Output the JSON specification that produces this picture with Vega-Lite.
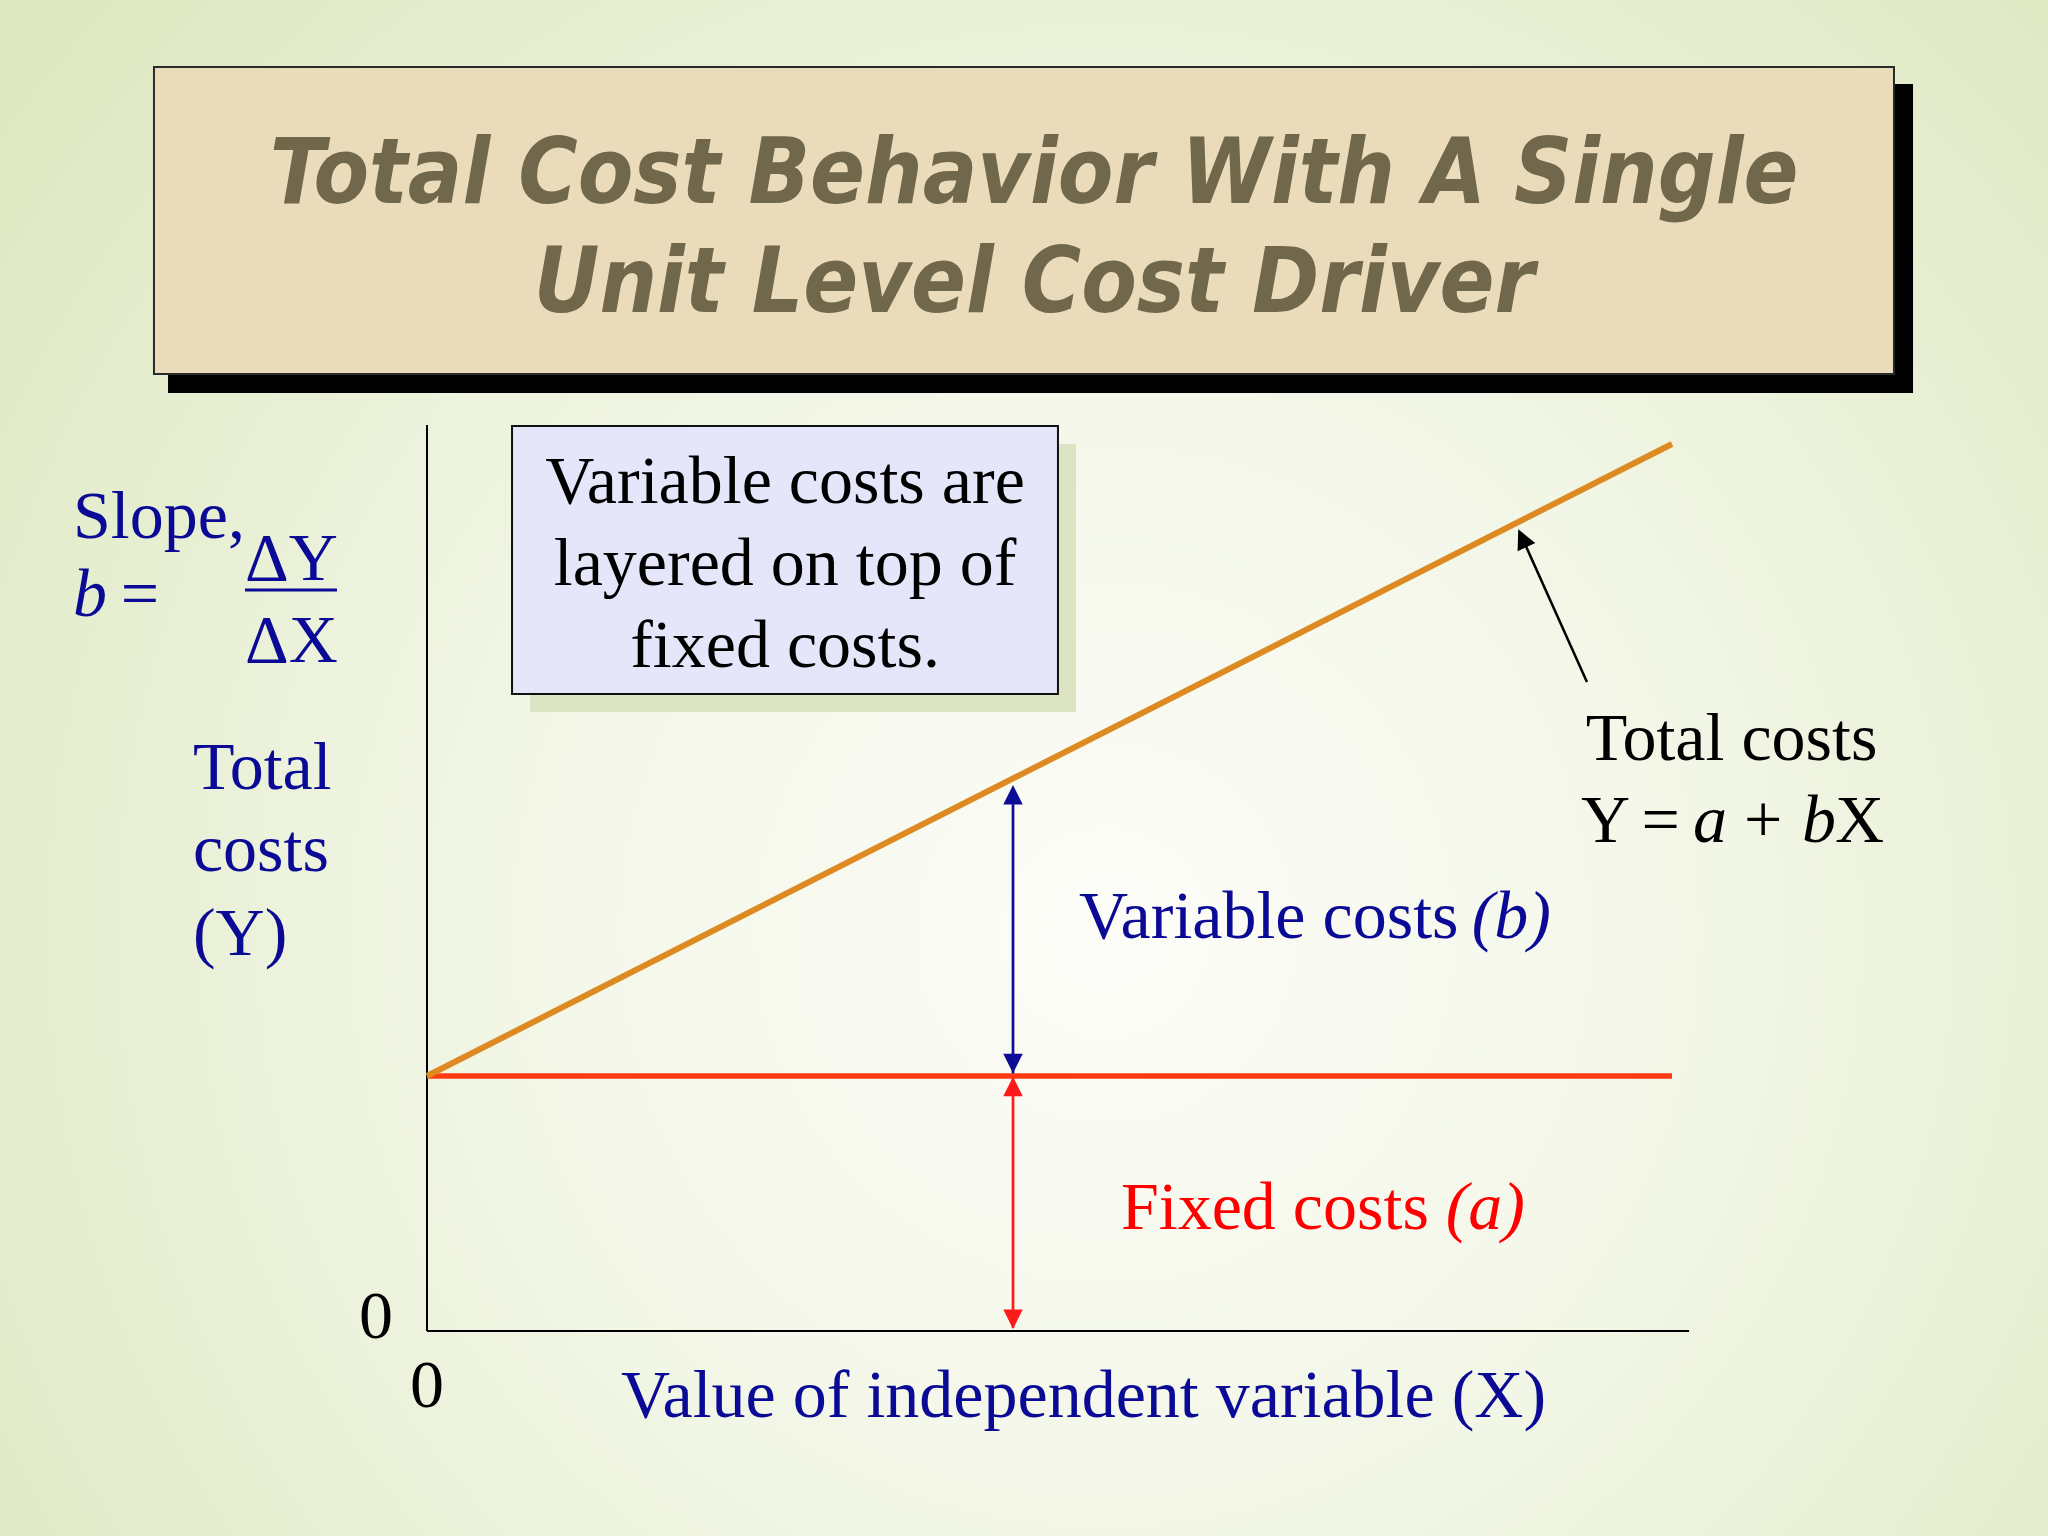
{
  "$schema": "https://vega.github.io/schema/vega-lite/v6.json",
  "width": 2048,
  "height": 1536,
  "autosize": {"type": "fit", "contains": "padding"},
  "padding": 0,
  "background": "#eaf1da",
  "config": {"view": {"stroke": null}},
  "encoding": {
    "x": {"field": "x", "type": "quantitative", "scale": {"domain": [-34.297, 130.201], "nice": false, "zero": false}, "axis": null},
    "y": {"field": "y", "type": "quantitative", "scale": {"domain": [-32.157, 208.784], "nice": false, "zero": false}, "axis": null}
  },
  "layer": [
    {
      "data": {"values": [{"x": -34.297, "x2": 130.201, "y": -32.157, "y2": 208.784}]},
      "mark": {"type": "rect", "clip": true, "fill": {"gradient": "radial", "x1": 0.54, "y1": 0.58, "r1": 0, "x2": 0.54, "y2": 0.58, "r2": 0.76, "stops": [{"offset": 0, "color": "#fcfdf8"}, {"offset": 0.4, "color": "#f2f6e6"}, {"offset": 1, "color": "#d8e5b8"}]}},
      "encoding": {"x2": {"field": "x2"}, "y2": {"field": "y2"}}
    },
    {
      "data": {"values": [{"x": -20.8, "x2": 119.36, "y": 147.14, "y2": 195.61}]},
      "mark": {"type": "rect", "fill": "#000000"},
      "encoding": {"x2": {"field": "x2"}, "y2": {"field": "y2"}}
    },
    {
      "data": {"values": [{"x": -21.93, "x2": 117.83, "y": 150.12, "y2": 198.27}]},
      "mark": {"type": "rect", "fill": "#eadcba", "stroke": "#2a2a2a", "strokeWidth": 2},
      "encoding": {"x2": {"field": "x2"}, "y2": {"field": "y2"}}
    },
    {
      "data": {"values": [
        {"x": 48.76, "y": 176.94, "label": "Total Cost Behavior With A Single"},
        {"x": 48.76, "y": 159.84, "label": "Unit Level Cost Driver"}
      ]},
      "mark": {"type": "text", "align": "center", "baseline": "alphabetic", "font": "'DejaVu Sans Condensed', 'DejaVu Sans', sans-serif", "fontSize": 90, "fontWeight": "bold", "fontStyle": "italic", "color": "#71674a"},
      "encoding": {"text": {"field": "label"}}
    },
    {
      "data": {"values": [{"x": 8.27, "x2": 52.13, "y": 97.1, "y2": 139.14}]},
      "mark": {"type": "rect", "fill": "#dde4c4"},
      "encoding": {"x2": {"field": "x2"}, "y2": {"field": "y2"}}
    },
    {
      "data": {"values": [{"x": 6.83, "x2": 50.68, "y": 99.92, "y2": 141.96}]},
      "mark": {"type": "rect", "fill": "#e6e6fa", "stroke": "#111111", "strokeWidth": 2},
      "encoding": {"x2": {"field": "x2"}, "y2": {"field": "y2"}}
    },
    {
      "data": {"values": [
        {"x": 28.76, "y": 129.88, "label": "Variable costs are"},
        {"x": 28.76, "y": 117.02, "label": "layered on top of"},
        {"x": 28.76, "y": 104.16, "label": "fixed costs."},
        {"x": -4.1, "y": -1.1, "label": "0"},
        {"x": 0, "y": -11.92, "label": "0"},
        {"x": 104.78, "y": 89.57, "label": "Total costs"}
      ]},
      "mark": {"type": "text", "align": "center", "baseline": "alphabetic", "font": "Liberation Serif", "fontSize": 68, "color": "#000000"},
      "encoding": {"text": {"field": "label"}}
    },
    {
      "data": {"values": [
        {"x": 0, "y": 0, "x2": 0, "y2": 142.12},
        {"x": 0, "y": 0, "x2": 101.37, "y2": 0}
      ]},
      "mark": {"type": "rule", "color": "#000000", "strokeWidth": 2},
      "encoding": {"x2": {"field": "x2"}, "y2": {"field": "y2"}}
    },
    {
      "data": {"values": [{"x": 0, "y": 40, "x2": 100, "y2": 40}]},
      "mark": {"type": "rule", "color": "#ff3a12", "strokeWidth": 5.5},
      "encoding": {"x2": {"field": "x2"}, "y2": {"field": "y2"}}
    },
    {
      "data": {"values": [{"x": 0, "y": 40, "x2": 100, "y2": 139.14}]},
      "mark": {"type": "rule", "color": "#de8a22", "strokeWidth": 6},
      "encoding": {"x2": {"field": "x2"}, "y2": {"field": "y2"}}
    },
    {
      "data": {"values": [
        {"x": 47.07, "y": 40.4, "y2": 85.0, "series": "Variable costs"},
        {"x": 47.07, "y": 0.5, "y2": 39.5, "series": "Fixed costs"}
      ]},
      "mark": {"type": "rule", "strokeWidth": 2.7},
      "encoding": {
        "y2": {"field": "y2"},
        "color": {"field": "series", "type": "nominal", "scale": {"domain": ["Variable costs", "Fixed costs"], "range": ["#0c0c96", "#ff1a1a"]}, "legend": null}
      }
    },
    {
      "data": {"values": [
        {"x": 47.07, "y": 84.12, "series": "Variable costs", "dir": "up"},
        {"x": 47.07, "y": 41.95, "series": "Variable costs", "dir": "down"},
        {"x": 47.07, "y": 38.36, "series": "Fixed costs", "dir": "up"},
        {"x": 47.07, "y": 1.84, "series": "Fixed costs", "dir": "down"}
      ]},
      "mark": {"type": "point", "filled": true, "size": 380, "opacity": 1, "strokeWidth": 0},
      "encoding": {
        "color": {"field": "series", "type": "nominal", "scale": {"domain": ["Variable costs", "Fixed costs"], "range": ["#0c0c96", "#ff1a1a"]}, "legend": null},
        "shape": {"field": "dir", "type": "nominal", "scale": {"domain": ["up", "down"], "range": ["M0,-1L1,1L-1,1Z", "M0,1L1,-1L-1,-1Z"]}, "legend": null}
      }
    },
    {
      "data": {"values": [{"x": 93.17, "y": 101.8, "x2": 87.98, "y2": 124.36}]},
      "mark": {"type": "rule", "color": "#000000", "strokeWidth": 2.5},
      "encoding": {"x2": {"field": "x2"}, "y2": {"field": "y2"}}
    },
    {
      "data": {"values": [{"x": 87.98, "y": 124.36}]},
      "mark": {"type": "point", "shape": "M0,-1L1,1L-1,1Z", "filled": true, "size": 380, "opacity": 1, "color": "#000000", "angle": -24.7, "strokeWidth": 0},
      "encoding": {}
    },
    {
      "data": {"values": [{"x": -14.62, "y": 116.24, "x2": -7.23, "y2": 116.24}]},
      "mark": {"type": "rule", "color": "#0a0a96", "strokeWidth": 3},
      "encoding": {"x2": {"field": "x2"}, "y2": {"field": "y2"}}
    },
    {
      "data": {"values": [
        {"x": -28.43, "y": 124.39, "label": "Slope,"},
        {"x": -24.6, "y": 112.16, "label": "="},
        {"x": -18.8, "y": 85.02, "label": "Total"},
        {"x": -18.8, "y": 72.16, "label": "costs"},
        {"x": -18.8, "y": 58.98, "label": "(Y)"},
        {"x": 52.37, "y": 61.65, "label": "Variable costs"}
      ]},
      "mark": {"type": "text", "align": "left", "baseline": "alphabetic", "font": "Liberation Serif", "fontSize": 68, "color": "#0a0a96"},
      "encoding": {"text": {"field": "label"}}
    },
    {
      "data": {"values": [
        {"x": -10.88, "y": 117.8, "label": "ΔY"},
        {"x": -10.88, "y": 104.94, "label": "ΔX"},
        {"x": 52.73, "y": -13.49, "label": "Value of independent variable (X)"}
      ]},
      "mark": {"type": "text", "align": "center", "baseline": "alphabetic", "font": "Liberation Serif", "fontSize": 68, "color": "#0a0a96"},
      "encoding": {"text": {"field": "label"}}
    },
    {
      "data": {"values": [{"x": -28.43, "y": 112.16, "label": "b"}]},
      "mark": {"type": "text", "align": "left", "baseline": "alphabetic", "font": "Liberation Serif", "fontSize": 68, "fontStyle": "italic", "color": "#0a0a96"},
      "encoding": {"text": {"field": "label"}}
    },
    {
      "data": {"values": [{"x": 90.28, "y": 61.65, "label": "(b)"}]},
      "mark": {"type": "text", "align": "right", "baseline": "alphabetic", "font": "Liberation Serif", "fontSize": 68, "fontStyle": "italic", "color": "#0a0a96"},
      "encoding": {"text": {"field": "label"}}
    },
    {
      "data": {"values": [{"x": 55.74, "y": 16.0, "label": "Fixed costs"}]},
      "mark": {"type": "text", "align": "left", "baseline": "alphabetic", "font": "Liberation Serif", "fontSize": 68, "color": "#ff0000"},
      "encoding": {"text": {"field": "label"}}
    },
    {
      "data": {"values": [{"x": 88.19, "y": 16.0, "label": "(a)"}]},
      "mark": {"type": "text", "align": "right", "baseline": "alphabetic", "font": "Liberation Serif", "fontSize": 68, "fontStyle": "italic", "color": "#ff0000"},
      "encoding": {"text": {"field": "label"}}
    },
    {
      "data": {"values": [
        {"x": 92.69, "y": 76.71, "label": "Y"},
        {"x": 97.55, "y": 76.71, "label": "="},
        {"x": 105.78, "y": 76.71, "label": "+"},
        {"x": 113.09, "y": 76.71, "label": "X"}
      ]},
      "mark": {"type": "text", "align": "left", "baseline": "alphabetic", "font": "Liberation Serif", "fontSize": 68, "color": "#000000"},
      "encoding": {"text": {"field": "label"}}
    },
    {
      "data": {"values": [
        {"x": 101.69, "y": 76.71, "label": "a"},
        {"x": 110.44, "y": 76.71, "label": "b"}
      ]},
      "mark": {"type": "text", "align": "left", "baseline": "alphabetic", "font": "Liberation Serif", "fontSize": 68, "fontStyle": "italic", "color": "#000000"},
      "encoding": {"text": {"field": "label"}}
    }
  ]
}
